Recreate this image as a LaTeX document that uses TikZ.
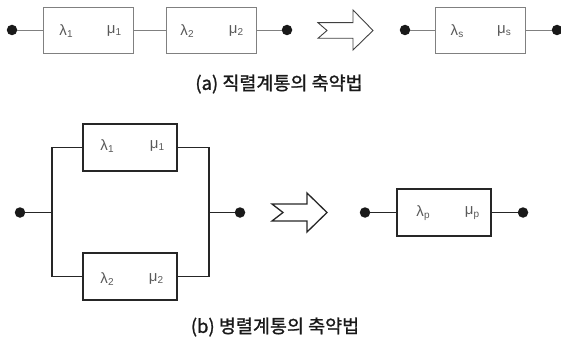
\documentclass[tikz,border=0pt]{standalone}
\usepackage{fontspec}
\setmainfont{Liberation Sans}
\newfontfamily\krfont[FakeBold=1.2]{Noto Sans CJK KR}
\newfontfamily\grfont{Liberation Sans}
\newcommand{\glab}[2]{{\grfont #1\kern0.3pt\raisebox{-0.3ex}{\fontsize{10}{10}\selectfont #2}}}
\begin{document}
\begin{tikzpicture}[x=1pt,y=-1pt,
  thinline/.style={draw=black!50, line width=0.8pt},
  thickline/.style={draw=black!85, line width=1.6pt},
  dotnode/.style={circle, fill=black!90, inner sep=0pt, minimum size=10.5pt},
  boxa/.style={draw=black!50, line width=0.8pt, minimum width=90pt, minimum height=46pt, inner sep=0pt},
  boxb/.style={draw=black!85, line width=1.6pt, minimum width=94pt, minimum height=47pt, inner sep=0pt},
  labtxt/.style={font=\fontsize{15}{15}\selectfont, text=black!65, inner sep=0pt},
  captxt/.style={font=\krfont\fontsize{18.5}{18.5}\selectfont, text=black!90, inner sep=0pt}
]
\useasboundingbox (0,0) rectangle (561,342);
% ---------- (a) series ----------
\node[dotnode] (a1) at (12,30) {};
\node[boxa] (A1) at (88,30) {};
\node[labtxt] (A1l) at (66,31) {\glab{λ}{1}};
\node[labtxt] (A1m) at (114,31) {\glab{μ}{1}};
\node[boxa] (A2) at (211,30) {};
\node[labtxt] (A2l) at (187,31) {\glab{λ}{2}};
\node[labtxt] (A2m) at (236,31) {\glab{μ}{2}};
\node[dotnode] (a2) at (287,30) {};
\draw[thinline] (a1) -- (A1);
\draw[thinline] (A1) -- (A2);
\draw[thinline] (A2) -- (a2);
% arrow
\draw[draw=black!75, line width=0.9pt, line join=miter]
  (318,22.7) -- (353,22.7) -- (353,10) -- (373,30.5) -- (353,50) -- (353,38.3) -- (318,38.3) -- (327,30.5) -- cycle;
\node[dotnode] (a3) at (405,30) {};
\node[boxa] (AS) at (480.5,30) {};
\node[labtxt] (ASl) at (457,31) {\glab{λ}{s}};
\node[labtxt] (ASm) at (504,31) {\glab{μ}{s}};
\node[dotnode] (a4) at (557,30) {};
\draw[thinline] (a3) -- (AS);
\draw[thinline] (AS) -- (a4);
\node[captxt] (capa) at (279,84) {(a) 직렬계통의 축약법};
% ---------- (b) parallel ----------
\node[dotnode] (b1) at (20,212.5) {};
\coordinate (jl) at (52,212.5);
\coordinate (jr) at (209,212.5);
\node[boxb] (B1) at (130,147.5) {};
\node[labtxt] (B1l) at (107,146) {\glab{λ}{1}};
\node[labtxt] (B1m) at (157,146) {\glab{μ}{1}};
\node[boxb] (B2) at (130,276.5) {};
\node[labtxt] (B2l) at (107,279) {\glab{λ}{2}};
\node[labtxt] (B2m) at (156,279) {\glab{μ}{2}};
\node[dotnode] (b2) at (240,212.5) {};
\draw[thickline] (b1) -- (jl);
\draw[thickline] (B1.west) -| (jl) |- (B2.west);
\draw[thickline] (B1.east) -| (jr) |- (B2.east);
\draw[thickline] (jr) -- (b2);
% arrow
\draw[draw=black!85, line width=1.3pt, line join=miter]
  (272,204) -- (307,204) -- (307,193) -- (327,212.5) -- (307,232) -- (307,221) -- (272,221) -- (283,212.5) -- cycle;
\node[dotnode] (b3) at (365,212.5) {};
\node[boxb] (BP) at (444,212.5) {};
\node[labtxt] (BPl) at (423,213) {\glab{λ}{p}};
\node[labtxt] (BPm) at (472,213) {\glab{μ}{p}};
\node[dotnode] (b4) at (523,212.5) {};
\draw[thickline] (b3) -- (BP);
\draw[thickline] (BP) -- (b4);
\node[captxt] (capb) at (275,327) {(b) 병렬계통의 축약법};
\end{tikzpicture}
\end{document}
